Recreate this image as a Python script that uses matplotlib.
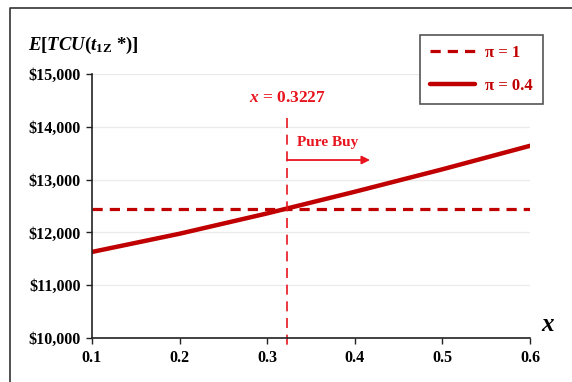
import matplotlib
matplotlib.use("Agg")
import matplotlib.pyplot as plt
from matplotlib.lines import Line2D
from matplotlib.ticker import FuncFormatter

x_vals = [0.1, 0.2, 0.3, 0.4, 0.5, 0.6]
pi1_vals = [12443, 12443, 12443, 12443, 12443, 12443]
pi04_vals = [11630, 11975, 12360, 12770, 13195, 13640]
x_ticks = [0.1, 0.2, 0.3, 0.4, 0.5, 0.6]
y_ticks = [10000, 11000, 12000, 13000, 14000, 15000]
threshold = 0.3227

plt.rcParams['font.family'] = ['Liberation Serif', 'DejaVu Serif']
plt.rcParams['mathtext.fontset'] = 'custom'
plt.rcParams['mathtext.rm'] = 'Liberation Serif:bold'
plt.rcParams['mathtext.it'] = 'Liberation Serif:italic:bold'
plt.rcParams['mathtext.bf'] = 'Liberation Serif:bold'

dark = '#C00000'
bright = '#E8141E'

fig = plt.figure(figsize=(5.72, 3.82), dpi=100)
# outer frame (only left and top edges visible in the picture)
fig.add_artist(Line2D([10/572, 10/572, 1.0], [0, 1 - 8/382, 1 - 8/382],
                      transform=fig.transFigure, color='#333333', lw=1.2))

ax = fig.add_axes([92/572, 1 - 338/382, 438/572, 264/382])
ax.set_xlim(0.1, 0.6)
ax.set_ylim(10000, 15000)
ax.set_xticks(x_ticks)
ax.set_yticks(y_ticks)
ax.xaxis.set_major_formatter(FuncFormatter(lambda v, p: f"{v:.1f}"))
ax.yaxis.set_major_formatter(FuncFormatter(lambda v, p: f"${v:,.0f}"))
for lab in ax.get_xticklabels() + ax.get_yticklabels():
    lab.set_fontweight('bold')
    lab.set_fontsize(11.5)
ax.tick_params(axis='both', direction='out', length=4, width=1, color='#222222')
ax.tick_params(axis='x', pad=5)
ax.tick_params(axis='y', pad=4)
for s in ['top', 'right']:
    ax.spines[s].set_visible(False)
for s in ['left', 'bottom']:
    ax.spines[s].set_color('#222222')
    ax.spines[s].set_linewidth(1.2)
ax.yaxis.grid(True, color='#EBEBEB', lw=1.0)
ax.set_axisbelow(True)

l1, = ax.plot(x_vals, pi1_vals, color=dark, lw=2.3, ls=(0, (3.2, 2.2)),
              label='π = 1')
l2, = ax.plot(x_vals, pi04_vals, color=dark, lw=3.2, solid_capstyle='round',
              label='π = 0.4')

ax.plot([threshold, threshold], [14170, 9770], color=bright, lw=1.2,
        ls=(0, (6, 4)), clip_on=False)
ax.text(threshold, 14545, r'$x$ = 0.3227', color=bright, ha='center', va='center',
        fontsize=12.5, fontweight='bold')
ax.text(0.3335, 13712, 'Pure Buy', color=bright, ha='left', va='center',
        fontsize=11, fontweight='bold')
ax.annotate('', xy=(0.4174, 13371), xytext=(threshold, 13371),
            arrowprops=dict(arrowstyle='-|>', color=bright, lw=1.3,
                            mutation_scale=12, shrinkA=0, shrinkB=0))

leg = ax.legend(handles=[l1, l2], loc='upper right', bbox_to_anchor=(543/572, 1 - 35/382),
                bbox_transform=fig.transFigure, borderaxespad=0, frameon=True,
                fancybox=False, edgecolor='#555555', framealpha=1, handlelength=2.7,
                borderpad=0.6, labelspacing=1.0, handletextpad=0.6,
                prop={'weight': 'bold', 'size': 12})
leg.get_frame().set_linewidth(1.2)
for t in leg.get_texts():
    t.set_color(dark)

fig.text(28/572, 1 - 45/382, r'$E$[$TCU$($t_{\mathrm{1Z}}$ *)]', ha='left', va='center',
         fontsize=13.5, fontweight='bold')
fig.text(548/572, 1 - 325/382, r'$x$', ha='center', va='center', fontsize=18)

fig.savefig('out.png', dpi=100)
